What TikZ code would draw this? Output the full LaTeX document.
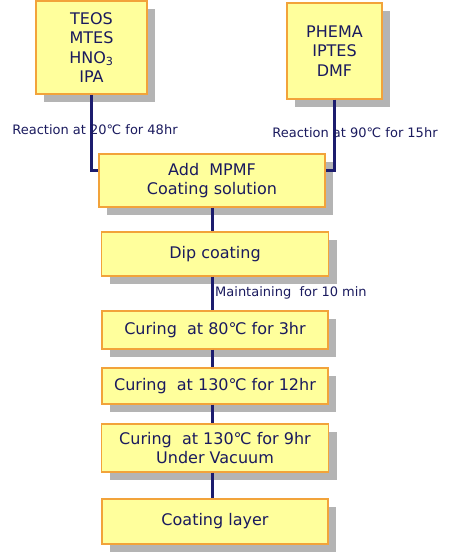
\documentclass[tikz,border=0pt]{standalone}
\usepackage{fontspec}
\setmainfont{DejaVu Sans}
\usetikzlibrary{shadows}
\definecolor{boxfill}{HTML}{FFFF9C}
\definecolor{boxedge}{HTML}{F2A33A}
\definecolor{boxshade}{HTML}{B4B4B4}
\definecolor{inktext}{HTML}{1A1A5E}
\definecolor{flowline}{HTML}{1C1C6E}
\begin{document}
\begin{tikzpicture}[x=1pt,y=-1pt,
  procbox/.style={draw=boxedge,line width=1.2pt,fill=boxfill,text=inktext,align=center,
    font=\fontsize{16}{19.5}\selectfont,inner sep=0pt,
    drop shadow={shadow xshift=8pt,shadow yshift=-8pt,fill=boxshade,opacity=1}},
  flow/.style={draw=flowline,line width=3pt},
  stepnote/.style={text=inktext,font=\fontsize{13}{15}\selectfont,inner sep=1pt}]
\useasboundingbox (0,0) rectangle (449,553);
% starting materials
\node[procbox,minimum width=111pt,minimum height=93pt] (sol) at (91.5,47.5) {TEOS\\MTES\\HNO\textsubscript{3}\\IPA};
\node[procbox,minimum width=95pt,minimum height=96pt] (pol) at (334.5,51) {PHEMA\\IPTES\\DMF};
\node[procbox,minimum width=226pt,minimum height=53pt] (mix) at (212,180.5) {Add~~MPMF\\Coating solution};
% process steps
\foreach \kname/\ky/\kh/\kw/\klb in {dip/254/44/227/{Dip coating},
    cure1/330/38/226/{Curing~~at 80℃ for 3hr},
    cure2/386/36/226/{Curing~~at 130℃ for 12hr},
    cure3/448/48/227/{Curing~~at 130℃ for 9hr\\Under Vacuum},
    layer/521.5/45/226/{Coating layer}}{
  \node[procbox,minimum width=\kw pt,minimum height=\kh pt] (\kname) at (215,\ky) {\klb};
}
% connectors
\draw[flow] (sol.south) |- ([yshift=10pt]mix.west);
\draw[flow] (pol.south) |- ([yshift=10pt]mix.east);
\draw[flow] (mix.south) -- (mix.south |- dip.north);
\foreach \ka/\kb in {dip/cure1,cure1/cure2,cure2/cure3,cure3/layer}{
  \draw[flow] (mix.south |- \ka.south) -- (mix.south |- \kb.north);
}
% conditions
\node[stepnote] (r1) at (95,130) {Reaction at 20℃ for 48hr};
\node[stepnote] (r2) at (355,133) {Reaction at 90℃ for 15hr};
\node[stepnote,anchor=west] (hold) at (214,293) {Maintaining~~for 10 min};
\end{tikzpicture}
\end{document}
